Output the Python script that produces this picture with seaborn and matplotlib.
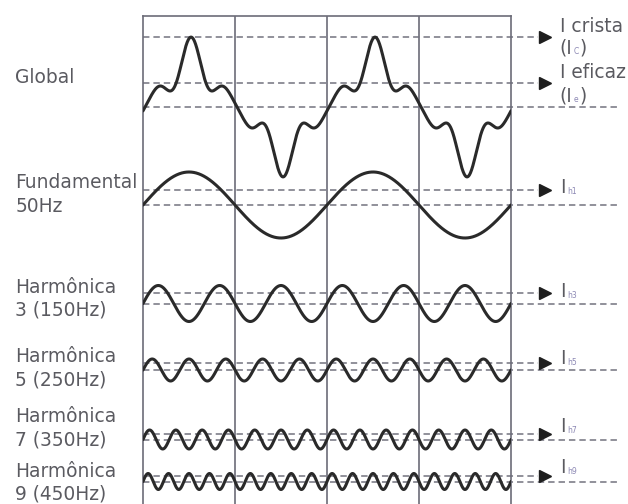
"""
Corrente distorcida: onda global e suas componentes harmônicas
"""

import numpy as np
import pandas as pd
import matplotlib
matplotlib.use('Agg')
import matplotlib.pyplot as plt
import matplotlib.transforms as mtransforms
import seaborn as sns

# ---- values (drawing units) ----
harmonic_orders = [1, 3, 5, 7, 9]
harmonic_amps = [33, 18, 11, 9.5, 8]          # peak of each single component
harmonic_rms = [15, 10.5, 7, 6, 6]            # height of the I_h dashed line
global_coefs = [43.5, -9.6, 13.6, -3.5, -0.3]  # sin(n*wt) terms of the global wave
global_phase = 4                               # degrees, peak sits a bit after 90
global_crest = 70.5
global_rms = 24.5

left_labels = [['Global'], ['Fundamental', '50Hz'], ['Harmônica', '3 (150Hz)'],
               ['Harmônica', '5 (250Hz)'], ['Harmônica', '7 (350Hz)'],
               ['Harmônica', '9 (450Hz)']]
harmonic_subs = ['h1', 'h3', 'h5', 'h7', 'h9']

# ---- layout ----
freq = 50                       # Hz
t_end = 40                      # ms, two cycles
baselines = [91, 189, 287.5, 354, 423.5, 465.5]
left_baselines = [[67], [172, 196], [277, 300], [346, 369], [406, 429], [461, 484]]
right_baselines = [177, 281, 348, 416, 457]
x_left_text = -13.9
x_right_text = 45.3
x_arrow_line = 42.9
x_arrow_tip = 43.7
x_zero_end = 51.85

wave_color = '#2a2a2a'
frame_color = '#6c6c78'
dash_color = '#73737f'
text_color = '#5a5a60'
sub_color = '#8c88b4'
fs = 13.4

sns.set_style('white')
plt.rcParams['font.family'] = ['DejaVu Sans']

fig = plt.figure(figsize=(6.28, 5.04), dpi=100)
ax = fig.add_axes([143 / 628, 0, 368 / 628, 488 / 504])

# build the waveforms
t = np.linspace(0, t_end, 2001)
theta = 2 * np.pi * freq * t / 1000
frames = []
theta_g = theta - np.deg2rad(global_phase)
glob = sum(b * np.sin(n * theta_g) for b, n in zip(global_coefs, harmonic_orders))
frames.append(pd.DataFrame({'t': t, 'y': baselines[0] - glob, 'row': 0}))
for i, (n, a) in enumerate(zip(harmonic_orders, harmonic_amps)):
    frames.append(pd.DataFrame({'t': t, 'y': baselines[i + 1] - a * np.sin(n * theta),
                                'row': i + 1}))
df = pd.concat(frames, ignore_index=True)

# dashed reference lines
dash = (0, (4.2, 2.6))


def ref_line(y, arrow):
    if arrow:
        ax.plot([0, x_arrow_line], [y, y], color=dash_color, lw=1.1, ls=dash, clip_on=False, zorder=2)
        ax.plot([x_arrow_tip], [y], marker='>', ms=8.5, color='#1e1e1e', clip_on=False, zorder=3)
    else:
        ax.plot([0, x_zero_end], [y, y], color=dash_color, lw=1.1, ls=dash, clip_on=False, zorder=2)


ref_line(baselines[0] - global_crest, True)
ref_line(baselines[0] - global_rms, True)
ref_line(baselines[0], False)
for i, r in enumerate(harmonic_rms):
    ref_line(baselines[i + 1] - r, True)
    ref_line(baselines[i + 1], False)

sns.lineplot(data=df, x='t', y='y', units='row', estimator=None, sort=False,
             color=wave_color, lw=2.2, ax=ax, legend=False, zorder=4)

# frame
ax.set_xlim(0, t_end)
ax.set_ylim(488, 0)
for x in [10, 20, 30]:
    ax.axvline(x, color=frame_color, lw=1.2, zorder=1)
for side in ['left', 'right', 'top']:
    ax.spines[side].set_color(frame_color)
    ax.spines[side].set_linewidth(1.2)
ax.spines['bottom'].set_visible(False)
ax.set_xticks([])
ax.set_yticks([])
ax.set_xlabel('')
ax.set_ylabel('')

# left labels
for lines, ys in zip(left_labels, left_baselines):
    for s, y in zip(lines, ys):
        ax.text(x_left_text, y, s, ha='left', va='baseline', fontsize=fs, color=text_color)

# right labels with small subscripts
fig.canvas.draw()
renderer = fig.canvas.get_renderer()
ident = mtransforms.IdentityTransform()


def current_label(y, main, sub, tail=''):
    txt = ax.text(x_right_text, y, main, ha='left', va='baseline', fontsize=fs, color=text_color)
    bb = txt.get_window_extent(renderer)
    base_y = ax.transData.transform((x_right_text, y))[1]
    st = ax.text(bb.x1 + 1.5, base_y - 1, sub, transform=ident, ha='left', va='baseline',
                 fontsize=5.5, color=sub_color)
    if tail:
        sb = st.get_window_extent(renderer)
        ax.text(sb.x1 + 0.5, base_y, tail, transform=ident, ha='left', va='baseline',
                fontsize=fs, color=text_color)


ax.text(x_right_text, 16, 'I crista', ha='left', va='baseline', fontsize=fs, color=text_color)
current_label(37, '(I', 'C', ')')
ax.text(x_right_text, 62, 'I eficaz', ha='left', va='baseline', fontsize=fs, color=text_color)
current_label(85, '(I', 'e', ')')
for sub, y in zip(harmonic_subs, right_baselines):
    current_label(y, 'I', sub)

plt.savefig('out.png', dpi=100)
plt.close()
